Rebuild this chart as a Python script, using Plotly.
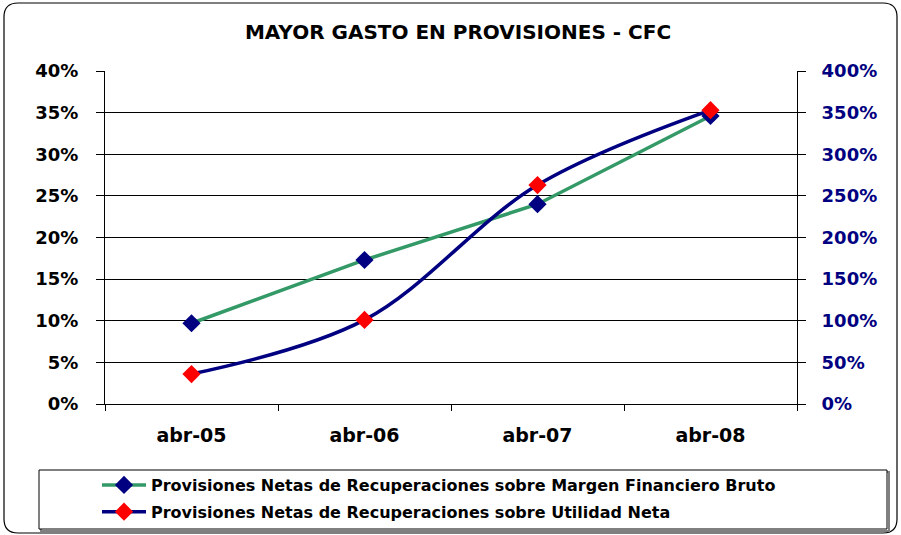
import plotly.graph_objects as go

# ---- data ----
categories = ["abr-05", "abr-06", "abr-07", "abr-08"]
margen_financiero = [0.097, 0.173, 0.240, 0.346]   # left axis
utilidad_neta = [0.36, 1.01, 2.63, 3.53]           # right axis
left_ticks = [0, 0.05, 0.10, 0.15, 0.20, 0.25, 0.30, 0.35, 0.40]
right_ticks = [0, 0.5, 1.0, 1.5, 2.0, 2.5, 3.0, 3.5, 4.0]
name_1 = "Provisiones Netas de Recuperaciones sobre Margen Financiero Bruto"
name_2 = "Provisiones Netas de Recuperaciones sobre Utilidad Neta"
title = "MAYOR GASTO EN PROVISIONES - CFC"

W, H = 901, 535
L, R, T, B = 105, 104, 71, 131
PW, PH = W - L - R, H - T - B

def px(x):
    return (x - L) / PW

def py(y):
    return (H - B - y) / PH

FONT = "DejaVu Sans, Liberation Sans, Arial"
GREEN = "#339966"
NAVY = "#000080"
RED = "#FF0000"

fig = go.Figure()
fig.add_trace(go.Scatter(
    x=categories, y=margen_financiero, name=name_1, mode="lines+markers",
    line=dict(color=GREEN, width=3.5),
    marker=dict(symbol="diamond", size=14, color=NAVY),
    legendgroup="g1", yaxis="y",
))
fig.add_trace(go.Scatter(
    x=categories, y=utilidad_neta, name=name_2, mode="lines+markers",
    line=dict(color=NAVY, width=3.5, shape="spline", smoothing=1),
    marker=dict(symbol="diamond", size=14, color=RED),
    legendgroup="g2", yaxis="y2",
))

# outer rounded border
x0, x1, y0, y1, rr = 4, 897, 3, 533, 14
rx, ry = rr / PW, rr / PH
path = (f"M {px(x0)+rx},{py(y0)} L {px(x1)-rx},{py(y0)} "
        f"Q {px(x1)},{py(y0)} {px(x1)},{py(y0)-ry} "
        f"L {px(x1)},{py(y1)+ry} Q {px(x1)},{py(y1)} {px(x1)-rx},{py(y1)} "
        f"L {px(x0)+rx},{py(y1)} Q {px(x0)},{py(y1)} {px(x0)},{py(y1)+ry} "
        f"L {px(x0)},{py(y0)-ry} Q {px(x0)},{py(y0)} {px(x0)+rx},{py(y0)} Z")

shapes = [
    dict(type="path", xref="paper", yref="paper", path=path,
         line=dict(color="#000000", width=1.2), layer="below"),
    # legend box shadow + box
    dict(type="rect", xref="paper", yref="paper",
         x0=px(41), x1=px(889), y0=py(472), y1=py(531),
         line=dict(color="#808080", width=2), layer="below"),
    dict(type="rect", xref="paper", yref="paper",
         x0=px(39), x1=px(887), y0=py(470), y1=py(529),
         line=dict(color="#000000", width=1), fillcolor="white", layer="below"),
]

fig.update_layout(
    width=W, height=H,
    margin=dict(l=L, r=R, t=T, b=B, autoexpand=False),
    paper_bgcolor="white", plot_bgcolor="white",
    font=dict(family=FONT, color="black", size=17, weight="bold"),
    title=dict(text=title, x=px(458), xanchor="center", y=1 - 32 / H, yanchor="middle",
               xref="paper",
               font=dict(family=FONT, size=20, color="black", weight="bold")),
    showlegend=True,
    legend=dict(xref="container", yref="container",
                x=97 / W, xanchor="left", y=1 - 468 / H, yanchor="top",
                bgcolor="rgba(0,0,0,0)", borderwidth=0,
                tracegroupgap=3, itemwidth=44,
                font=dict(family=FONT, size=16, color="black", weight="bold")),
    shapes=shapes,
    xaxis=dict(
        type="category", showgrid=False, showline=True, linecolor="black", linewidth=1,
        ticks="outside", tickson="boundaries", ticklen=6, tickcolor="black",
        tickfont=dict(family=FONT, size=19, color="black", weight="bold"),
        ticklabelstandoff=14, zeroline=False, range=[-0.5, 3.5],
    ),
    yaxis=dict(
        range=[0, 0.40], tickvals=left_ticks, tickformat=".0%",
        showgrid=True, gridcolor="black", gridwidth=1,
        showline=True, linecolor="black", linewidth=1,
        ticks="outside", ticklen=8, tickcolor="black",
        tickfont=dict(family=FONT, size=18, color="black", weight="bold"),
        ticklabelstandoff=14, zeroline=False,
    ),
    yaxis2=dict(
        range=[0, 4.0], tickvals=right_ticks, tickformat=".0%",
        overlaying="y", side="right", showgrid=False,
        showline=True, linecolor="black", linewidth=1,
        ticks="outside", ticklen=8, tickcolor="black",
        tickfont=dict(family=FONT, size=18, color=NAVY, weight="bold"),
        ticklabelstandoff=12, zeroline=False,
    ),
)

fig.write_html("out.html", config={"displayModeBar": False},
               post_script="document.body.style.margin='0';document.body.style.overflow='hidden';")
